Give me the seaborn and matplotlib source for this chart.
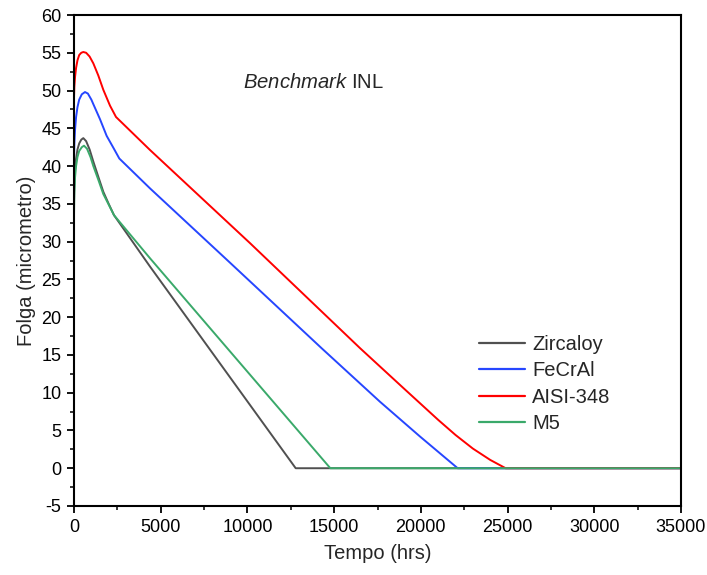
import matplotlib
matplotlib.use("Agg")
import matplotlib.pyplot as plt
import seaborn as sns
import pandas as pd
from matplotlib.ticker import MultipleLocator

# ---- data ----
t_zircaloy = [0, 20, 60, 120, 200, 300, 420, 537, 700, 900, 1114, 1400, 1690, 2000, 2306, 4382, 12783, 35000]
y_zircaloy = [35.0, 37.5, 39.5, 41.0, 42.2, 43.0, 43.5, 43.7, 43.3, 42.2, 40.6, 38.6, 36.6, 35.0, 33.5, 26.7, 0, 0]

t_fecral = [0, 20, 60, 120, 200, 300, 450, 634, 800, 1000, 1114, 1500, 1883, 2300, 2613, 4382, 9000, 14281, 17644, 19950, 22124, 35000]
y_fecral = [41.0, 43.0, 44.8, 46.5, 47.8, 48.8, 49.5, 49.8, 49.6, 48.8, 48.2, 46.2, 44.0, 42.3, 41.0, 37.05, 27.2, 15.88, 8.8, 4.2, 0, 0]

t_aisi = [0, 20, 60, 120, 200, 300, 420, 537, 700, 900, 1114, 1400, 1690, 2076, 2422, 4382, 10148, 16491, 19000, 20000, 21000, 22000, 23000, 24000, 24890, 35000]
y_aisi = [49.0, 50.5, 51.8, 53.0, 54.0, 54.7, 55.0, 55.1, 55.0, 54.5, 53.6, 52.0, 50.1, 48.0, 46.5, 42.13, 29.8, 15.9, 10.6, 8.5, 6.4, 4.4, 2.6, 1.1, 0, 0]

t_m5 = [0, 20, 60, 120, 200, 300, 450, 577, 750, 950, 1114, 1400, 1690, 2000, 2306, 4382, 14780, 35000]
y_m5 = [33.5, 36.5, 38.5, 40.0, 41.2, 42.0, 42.5, 42.7, 42.3, 41.2, 40.0, 38.2, 36.3, 34.9, 33.5, 27.8, 0, 0]

series_names = ["Zircaloy", "FeCrAl", "AISI-348", "M5"]
series_colors = ["#505050", "#2646ff", "#ff0000", "#3aa96a"]

x_label = "Tempo (hrs)"
y_label = "Folga (micrometro)"
annotation = r"$\it{Benchmark}$ INL"

frames = []
for name, t, y in zip(series_names,
                      [t_zircaloy, t_fecral, t_aisi, t_m5],
                      [y_zircaloy, y_fecral, y_aisi, y_m5]):
    frames.append(pd.DataFrame({"t": t, "y": y, "Material": name}))
df = pd.concat(frames, ignore_index=True)

sns.set_style("white")
plt.rcParams["font.family"] = ["Liberation Sans", "DejaVu Sans"]
plt.rcParams["mathtext.fontset"] = "custom"
plt.rcParams["mathtext.it"] = "Liberation Sans:italic"
plt.rcParams["mathtext.rm"] = "Liberation Sans"
plt.rcParams["axes.unicode_minus"] = False

fig = plt.figure(figsize=(7.07, 5.75), dpi=100)
ax = fig.add_axes([74/707, 1-506/575, (681-74)/707, (506-15)/575])

sns.lineplot(data=df, x="t", y="y", hue="Material", hue_order=series_names,
             palette=dict(zip(series_names, series_colors)),
             sort=False, estimator=None, linewidth=1.4, ax=ax)

ax.set_xlim(0, 35000)
ax.set_ylim(-5, 60)
ax.xaxis.set_major_locator(MultipleLocator(5000))
ax.xaxis.set_minor_locator(MultipleLocator(2500))
ax.yaxis.set_major_locator(MultipleLocator(5))
ax.yaxis.set_minor_locator(MultipleLocator(2.5))
ax.tick_params(axis="both", which="major", direction="out", length=5, width=1.3,
               labelsize=13, colors="black", bottom=True, left=True, top=False, right=False, pad=4)
ax.tick_params(axis="both", which="minor", direction="out", length=3, width=1.3,
               bottom=True, left=True, top=False, right=False)
for s in ax.spines.values():
    s.set_visible(True)
    s.set_color("black")
    s.set_linewidth(1.5)

ax.set_xlabel(x_label, fontsize=14.5, labelpad=6)
ax.set_ylabel(y_label, fontsize=14.5, labelpad=4)

ax.text(9745, 51, annotation, fontsize=14.6, ha="left", va="center")

leg = ax.legend(title=None, frameon=False, fontsize=14.5, loc="upper left",
                bbox_to_anchor=(0.667, 0.348), borderpad=0, borderaxespad=0,
                handlelength=2.3, handletextpad=0.35, labelspacing=0.36)
for line in leg.get_lines():
    line.set_linewidth(1.6)

fig.savefig("out.png", dpi=100)
